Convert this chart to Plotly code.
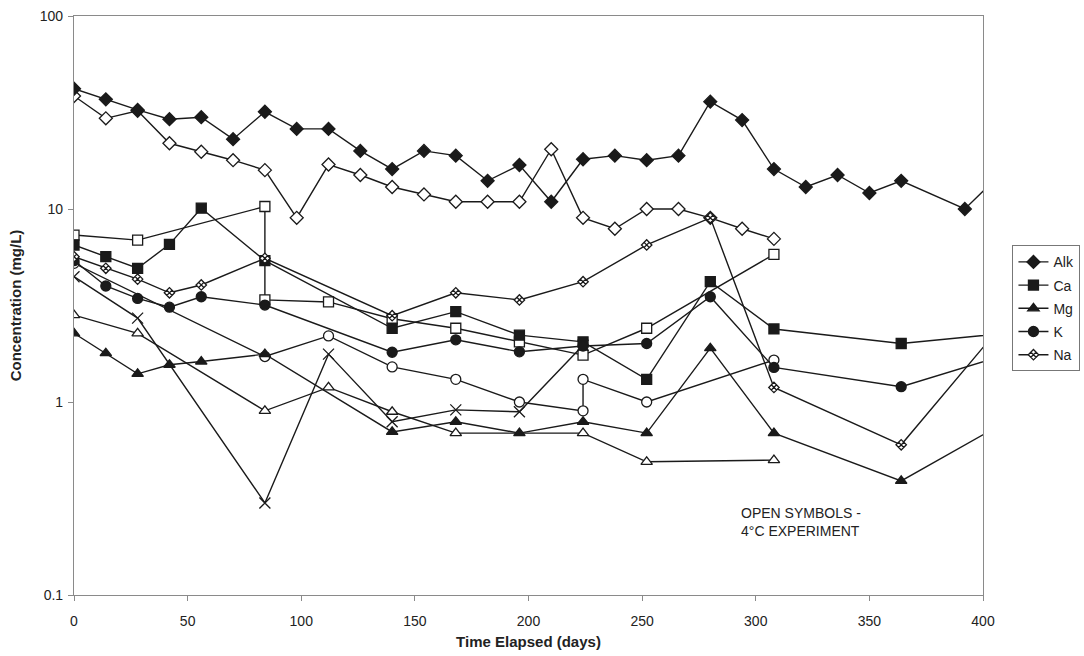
import plotly.graph_objects as go

# ---- data: concentrations (mg/L) vs. time elapsed (days) ----
# filled symbols: main experiment
alk_days = [0, 14, 28, 42, 56, 70, 84, 98, 112, 126, 140, 154, 168, 182, 196, 210, 224,
            238, 252, 266, 280, 294, 308, 322, 336, 350, 364, 392, 420]
alk_vals = [42, 37, 32.6, 29.2, 29.9, 23, 31.9, 26, 26, 20, 16.1, 20, 18.9, 14, 16.9, 10.9,
            18.1, 18.9, 17.9, 18.9, 36, 28.9, 16.1, 13, 15, 12.1, 14, 10, 20.9]

ion_days = [0, 14, 28, 42, 56, 84, 140, 168, 196, 224, 252, 280, 308, 364, 420]
ca_vals = [6.51, 5.66, 4.93, 6.56, 10.1, 5.4, 2.41, 2.94, 2.22, 2.05, 1.31, 4.2, 2.39, 2.01, 2.33]
mg_vals = [2.27, 1.79, 1.40, 1.56, 1.62, 1.77, 0.70, 0.79, 0.69, 0.79, 0.69, 1.90, 0.69, 0.39, 0.92]
k_vals = [5.4, 3.99, 3.44, 3.10, 3.51, 3.18, 1.81, 2.10, 1.82, 1.95, 2.01, 3.51, 1.51, 1.20, 1.91]
na_vals = [5.66, 4.93, 4.33, 3.68, 4.04, 5.55, 2.80, 3.68, 3.38, 4.20, 6.51, 9.0, 1.19, 0.60, 3.65]

# open symbols: 4 degC experiment
alk4_days = [0, 14, 28, 42, 56, 70, 84, 98, 112, 126, 140, 154, 168, 182, 196, 210, 224,
             238, 252, 266, 280, 294, 308]
alk4_vals = [38.5, 29.5, 32.3, 21.9, 19.8, 17.9, 15.9, 9.0, 17, 15, 13, 11.9, 10.9, 10.9,
             10.9, 20.4, 9.0, 7.9, 10, 10, 9.0, 7.9, 7.0]
ca4_days = [0, 28, 84, 84, 112, 140, 168, 196, 224, 252, 308]
ca4_vals = [7.33, 6.9, 10.3, 3.38, 3.3, 2.7, 2.41, 2.05, 1.75, 2.41, 5.82]
mg4_days = [0, 28, 84, 112, 140, 168, 224, 252, 308]
mg4_vals = [2.82, 2.27, 0.90, 1.19, 0.89, 0.69, 0.69, 0.49, 0.50]
k4_days = [0, 84, 112, 140, 168, 196, 224, 224, 252, 308]
k4_vals = [5.23, 1.72, 2.2, 1.52, 1.31, 1.0, 0.9, 1.31, 1.0, 1.65]
na4_days = [0, 28, 84, 112, 140, 168, 196, 224]
na4_vals = [4.46, 2.72, 0.30, 1.77, 0.79, 0.91, 0.89, 1.97]

y_ticks = [0.1, 1, 10, 100]
y_ticktext = ["0.1", "1", "10", "100"]
x_ticks = [0, 50, 100, 150, 200, 250, 300, 350, 400]

INK = "#1a1a1a"
TEXT = "#222"
FONT = "Arial, Liberation Sans, sans-serif"

fig = go.Figure()


def add_series(x, y, name, symbol, size, fill, legend, group):
    fig.add_trace(go.Scatter(
        x=x, y=y, name=name, mode="lines+markers",
        line=dict(color=INK, width=1.4),
        marker=dict(symbol=symbol, size=size, color=fill,
                    line=dict(color=INK, width=1.3)),
        showlegend=legend, legendgroup=group,
    ))


# 4 degC experiment (open symbols)
add_series(alk4_days, alk4_vals, "Alk 4C", "diamond", 10, "white", False, "o1")
add_series(ca4_days, ca4_vals, "Ca 4C", "square", 10, "white", False, "o2")
add_series(mg4_days, mg4_vals, "Mg 4C", "triangle-up", 10, "white", False, "o3")
add_series(k4_days, k4_vals, "K 4C", "circle", 10, "white", False, "o4")
add_series(na4_days, na4_vals, "Na 4C", "x-thin", 11, INK, False, "o5")

# main experiment (filled symbols)
add_series(alk_days, alk_vals, "Alk", "diamond", 10, INK, True, "g1")
add_series(ion_days, ca_vals, "Ca", "square", 10, INK, True, "g2")
add_series(ion_days, mg_vals, "Mg", "triangle-up", 10, INK, True, "g3")
add_series(ion_days, k_vals, "K", "circle", 10, INK, True, "g4")
add_series(ion_days, na_vals, "Na", "diamond-x", 8, "white", True, "g5")

fig.add_annotation(
    x=0.732, y=0.126, xref="paper", yref="paper", xanchor="left", yanchor="middle",
    text="OPEN SYMBOLS -<br>4°C EXPERIMENT", showarrow=False, align="left",
    font=dict(family=FONT, size=14, color=TEXT),
)

axis_common = dict(
    showline=True, linecolor="#8a8a8a", linewidth=1.2, mirror=True,
    ticks="outside", ticklen=5, tickcolor="#8a8a8a", showgrid=False, zeroline=False,
    tickfont=dict(family=FONT, size=14, color=TEXT),
)

fig.update_xaxes(
    range=[0, 400], tickvals=x_ticks, ticklabelstandoff=8,
    title=dict(text="<b>Time Elapsed (days)</b>", font=dict(family=FONT, size=15, color=TEXT),
               standoff=8),
    **axis_common,
)
fig.update_yaxes(
    type="log", range=[-1, 2], tickvals=y_ticks, ticktext=y_ticktext, ticklabelstandoff=2,
    title=dict(text="<b>Concentration (mg/L)</b>", font=dict(family=FONT, size=15, color=TEXT),
               standoff=14),
    **axis_common,
)

fig.update_layout(
    width=1084, height=656,
    margin=dict(l=74, r=101, t=16, b=61, autoexpand=False),
    paper_bgcolor="white", plot_bgcolor="white",
    font=dict(family=FONT, size=14, color=TEXT),
    legend=dict(xref="container", yref="container", x=0.934, y=0.53,
                xanchor="left", yanchor="middle",
                bordercolor="#777", borderwidth=1, bgcolor="white",
                tracegroupgap=2, itemwidth=30,
                font=dict(family=FONT, size=14, color=TEXT)),
)

fig.write_html("out.html")
